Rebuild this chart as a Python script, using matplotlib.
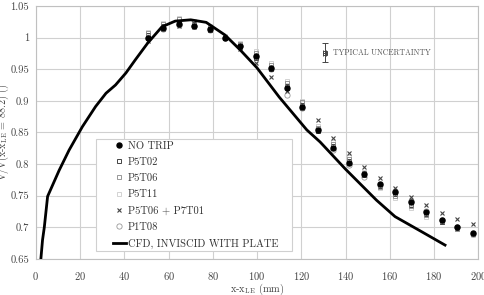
import matplotlib
matplotlib.use("Agg")
import matplotlib.pyplot as plt
from matplotlib.patches import Rectangle

plt.rcParams['font.family'] = 'cmr10'
plt.rcParams['mathtext.fontset'] = 'cm'
plt.rcParams['axes.formatter.use_mathtext'] = True

# measurement stations (mm)
x_pos = [50.5, 57.5, 64.5, 71.5, 78.5, 85.5, 92.5, 99.5, 106.5, 113.5, 120.5,
         127.5, 134.5, 141.5, 148.5, 155.5, 162.5, 169.5, 176.5, 183.5, 190.5, 197.5]

no_trip = [1.000, 1.015, 1.021, 1.019, 1.014, 1.000, 0.987, 0.971, 0.952, 0.921, 0.891,
           0.854, 0.825, 0.801, 0.784, 0.769, 0.756, 0.740, 0.725, 0.711, 0.700, 0.691]
p5t02 = [1.004, 1.018, 1.024, 1.021, 1.012, 1.000, 0.985, 0.968, 0.950, 0.924, 0.894,
         0.852, 0.828, 0.805, 0.782, 0.766, 0.752, 0.736, 0.721, 0.709, 0.699, 0.690]
p5t06 = [1.007, 1.022, 1.029, 1.024, 1.016, 1.001, 0.990, 0.975, 0.956, 0.928, 0.898,
         0.857, 0.832, 0.808, 0.786, 0.764, 0.749, 0.733, 0.719, 0.710, 0.698, 0.689]
p5t11 = [1.009, 1.023, 1.031, 1.026, 1.018, 1.002, 0.992, 0.978, 0.960, 0.931, 0.900,
         0.860, 0.835, 0.811, 0.788, 0.762, 0.746, 0.730, 0.717, 0.708, 0.697, 0.688]
p5t06_p7t01 = [0.995, 1.013, 1.019, 1.017, 1.012, 1.000, 0.982, 0.960, 0.937, 0.916, 0.889,
               0.869, 0.841, 0.817, 0.795, 0.778, 0.763, 0.748, 0.735, 0.723, 0.713, 0.705]
p1t08 = [1.000, 1.014, 1.020, 1.018, 1.012, 1.000, 0.986, 0.969, 0.950, 0.909, 0.889,
         0.856, 0.822, 0.799, 0.780, 0.767, 0.758, 0.741, 0.726, 0.712, 0.700, 0.690]

# CFD inviscid with plate
cfd_x = [2.2, 3.0, 3.8, 5.3, 10.5, 15, 21, 27, 31.7, 36, 40.7, 45, 50.5, 57, 63, 70, 77,
         85.5, 92.5, 100, 110, 122.5, 128.5, 140, 154, 162.4, 175, 185]
cfd_y = [0.648, 0.680, 0.700, 0.749, 0.790, 0.822, 0.859, 0.891, 0.912, 0.925, 0.944, 0.965,
         0.991, 1.017, 1.026, 1.028, 1.024, 1.004, 0.980, 0.952, 0.906, 0.854, 0.835, 0.792,
         0.743, 0.717, 0.692, 0.672]

unc_x, unc_y, unc_err = 130.5, 0.976, 0.015

fig = plt.figure(figsize=(4.85, 2.95), dpi=100)
ax = fig.add_axes([0.074, 0.122, 0.912, 0.858])

ax.plot(x_pos, no_trip, 'o', color='black', ms=3.6, label='NO TRIP', zorder=5)
ax.plot(x_pos, p5t02, 's', mfc='none', mec='#444444', mew=0.7, ms=3.4, label='P5T02', zorder=4)
ax.plot(x_pos, p5t06, 's', mfc='none', mec='#888888', mew=0.6, ms=3.0, label='P5T06', zorder=4)
ax.plot(x_pos, p5t11, 's', mfc='none', mec='#cccccc', mew=0.6, ms=3.0, label='P5T11', zorder=3)
ax.plot(x_pos, p5t06_p7t01, 'x', color='#444444', mew=0.8, ms=3.3, label='P5T06 + P7T01', zorder=4)
ax.plot(x_pos, p1t08, 'o', mfc='none', mec='#999999', mew=0.6, ms=3.8, label='P1T08', zorder=3)
ax.plot(cfd_x, cfd_y, '-', color='black', lw=2, label='CFD, INVISCID WITH PLATE', zorder=6)

ax.errorbar(unc_x, unc_y, yerr=unc_err, xerr=0.8, fmt='s', mfc='none', mec='#444444',
            ecolor='#444444', ms=3.5, mew=0.7, elinewidth=0.7, capsize=2)
ax.text(134.5, unc_y, 'TYPICAL UNCERTAINTY', fontsize=5.6, color='#555555', va='center')

ax.set_xlim(0, 200)
ax.set_ylim(0.65, 1.05)
ax.set_xticks(range(0, 201, 20))
ax.set_yticks([0.65, 0.7, 0.75, 0.8, 0.85, 0.9, 0.95, 1.0, 1.05])
ax.set_yticklabels(['0.65', '0.7', '0.75', '0.8', '0.85', '0.9', '0.95', '1', '1.05'])
ax.tick_params(length=0, labelsize=7.6, labelcolor='#444444')
ax.tick_params(axis='x', pad=8)
ax.tick_params(axis='y', pad=5)
ax.grid(True, color='#d0d0d0', lw=0.8)
for s in ax.spines.values():
    s.set_color('#c0c0c0')

ax.set_xlabel(r'x-x$_{\rm LE}$ (mm)', fontsize=7.4, color='#444444')
ax.xaxis.set_label_coords(0.5, -0.088)
ax.set_ylabel(r'V/V(x-x$_{\rm LE}$ = 88.2) ()', fontsize=7.3, color='#444444')
ax.yaxis.set_label_coords(-0.057, 0.5)

# legend box drawn separately so it can be wider than its entries
ax.add_patch(Rectangle((0.137, 0.033), 0.443, 0.44, transform=ax.transAxes,
                       facecolor='white', edgecolor='#d0d0d0', lw=0.8, zorder=7))
leg = ax.legend(loc='upper left', bbox_to_anchor=(0.1735, 0.466), fontsize=7.6,
                handlelength=1.3, handletextpad=0.15, labelspacing=0.64,
                borderpad=0, borderaxespad=0, frameon=False)
leg.set_zorder(8)
for t in leg.get_texts():
    t.set_color('#333333')

fig.savefig('out.png', dpi=100)
